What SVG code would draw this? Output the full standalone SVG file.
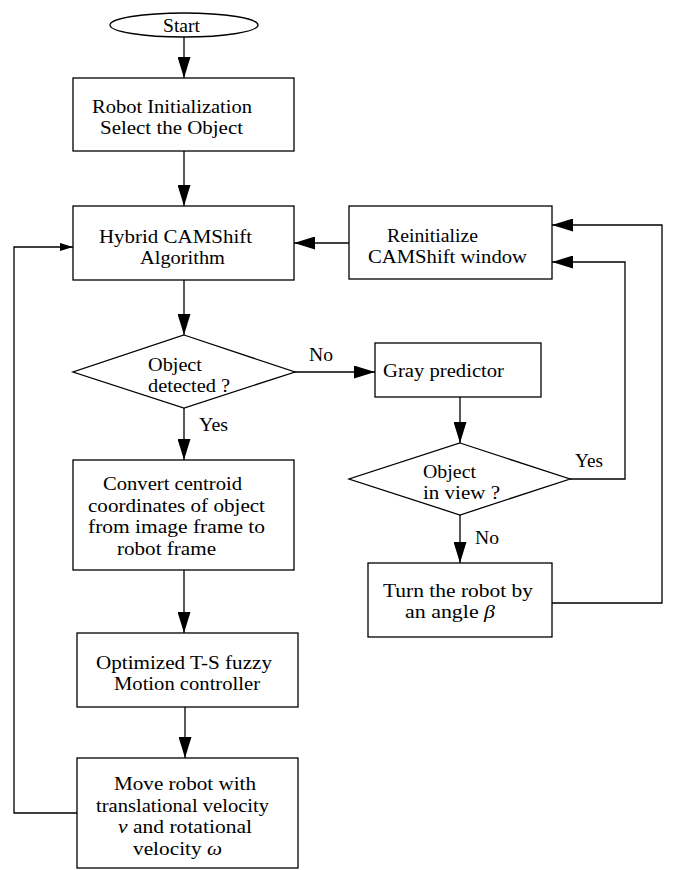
<svg xmlns="http://www.w3.org/2000/svg" width="678" height="870" viewBox="0 0 678 870">
<style>
.n{fill:#fff;stroke:#000;stroke-width:1.3}
.c{fill:none;stroke:#000;stroke-width:1.3}
text{font-family:"Liberation Serif","Times New Roman",serif;font-size:19px;fill:#000}
.i{font-style:italic}
</style>
<defs>
<marker id="a" markerUnits="userSpaceOnUse" markerWidth="21" markerHeight="13" refX="21" refY="6.5" orient="auto">
<path d="M0,0 L21,6.5 L0,13 z" fill="#000"/>
</marker>
<marker id="s" markerUnits="userSpaceOnUse" markerWidth="13" markerHeight="8" refX="13" refY="4" orient="auto">
<path d="M0,0 L13,4 L0,8 z" fill="#000"/>
</marker>
</defs>
<rect width="678" height="870" fill="#fff"/>
<g id="connectors">
<line class="c" x1="184" y1="37" x2="184" y2="78" marker-end="url(#a)"/>
<line class="c" x1="184" y1="151" x2="184" y2="206" marker-end="url(#a)"/>
<line class="c" x1="184" y1="280" x2="184" y2="335" marker-end="url(#a)"/>
<line class="c" x1="349" y1="243" x2="294" y2="243" marker-end="url(#a)"/>
<line class="c" x1="295" y1="372" x2="375" y2="372" marker-end="url(#a)"/>
<line class="c" x1="184" y1="408" x2="184" y2="460" marker-end="url(#a)"/>
<line class="c" x1="184" y1="570" x2="184" y2="633" marker-end="url(#a)"/>
<line class="c" x1="185" y1="707" x2="185" y2="758" marker-end="url(#a)"/>
<polyline class="c" points="77,813 14,813 14,247 73,247" marker-end="url(#s)"/>
<line class="c" x1="460" y1="397" x2="460" y2="443" marker-end="url(#a)"/>
<polyline class="c" points="570,479 625,479 625,262 552,262" marker-end="url(#a)"/>
<line class="c" x1="460" y1="515" x2="460" y2="563" marker-end="url(#a)"/>
<polyline class="c" points="552,603 662,603 662,225 552,225" marker-end="url(#a)"/>
<text x="309" y="361" textLength="24" lengthAdjust="spacingAndGlyphs">No</text>
<text x="199" y="431" textLength="29" lengthAdjust="spacingAndGlyphs">Yes</text>
<text x="575" y="467" textLength="28" lengthAdjust="spacingAndGlyphs">Yes</text>
<text x="475" y="544" textLength="24" lengthAdjust="spacingAndGlyphs">No</text>
</g>
<g id="start">
<ellipse class="n" cx="184" cy="25" rx="74" ry="12"/>
<text x="163" y="32" textLength="37" lengthAdjust="spacingAndGlyphs">Start</text>
</g>
<g id="init">
<rect class="n" x="73" y="78" width="221" height="73"/>
<text x="92" y="113" textLength="160" lengthAdjust="spacingAndGlyphs">Robot Initialization</text>
<text x="100" y="134" textLength="143" lengthAdjust="spacingAndGlyphs">Select the Object</text>
</g>
<g id="hybrid">
<rect class="n" x="73" y="206" width="221" height="74"/>
<text x="99" y="242.5" textLength="153" lengthAdjust="spacingAndGlyphs">Hybrid CAMShift</text>
<text x="140" y="263.5" textLength="85" lengthAdjust="spacingAndGlyphs">Algorithm</text>
</g>
<g id="reinit">
<rect class="n" x="349" y="206" width="203" height="73"/>
<text x="387" y="242" textLength="91" lengthAdjust="spacingAndGlyphs">Reinitialize</text>
<text x="368" y="263" textLength="159" lengthAdjust="spacingAndGlyphs">CAMShift window</text>
</g>
<g id="detected">
<polygon class="n" points="184,335 295,372 184,408 73,372"/>
<text x="148" y="371" textLength="54" lengthAdjust="spacingAndGlyphs">Object</text>
<text x="148" y="392" textLength="82" lengthAdjust="spacingAndGlyphs">detected ?</text>
</g>
<g id="gray">
<rect class="n" x="375" y="343" width="166" height="54"/>
<text x="383" y="377" textLength="121" lengthAdjust="spacingAndGlyphs">Gray predictor</text>
</g>
<g id="inview">
<polygon class="n" points="460,443 570,479 460,515 349,479"/>
<text x="423" y="477.5" textLength="53" lengthAdjust="spacingAndGlyphs">Object</text>
<text x="423" y="498.5" textLength="77" lengthAdjust="spacingAndGlyphs">in view ?</text>
</g>
<g id="turn">
<rect class="n" x="368" y="563" width="184" height="74"/>
<text x="383" y="596.5" textLength="150" lengthAdjust="spacingAndGlyphs">Turn the robot by</text>
<text x="405" y="617.5" textLength="90" lengthAdjust="spacingAndGlyphs">an angle <tspan class="i">β</tspan></text>
</g>
<g id="convert">
<rect class="n" x="73" y="460" width="221" height="110"/>
<text x="103" y="490" textLength="139" lengthAdjust="spacingAndGlyphs">Convert centroid</text>
<text x="88" y="511.5" textLength="177" lengthAdjust="spacingAndGlyphs">coordinates of object</text>
<text x="88" y="533" textLength="177" lengthAdjust="spacingAndGlyphs">from image frame to</text>
<text x="117" y="554.5" textLength="99" lengthAdjust="spacingAndGlyphs">robot frame</text>
</g>
<g id="fuzzy">
<rect class="n" x="77" y="633" width="221" height="74"/>
<text x="96" y="668.5" textLength="176" lengthAdjust="spacingAndGlyphs">Optimized T-S fuzzy</text>
<text x="114" y="689.5" textLength="146" lengthAdjust="spacingAndGlyphs">Motion controller</text>
</g>
<g id="move">
<rect class="n" x="77" y="758" width="221" height="110"/>
<text x="114" y="790" textLength="142" lengthAdjust="spacingAndGlyphs">Move robot with</text>
<text x="96" y="811.5" textLength="173" lengthAdjust="spacingAndGlyphs">translational velocity</text>
<text x="118" y="833" textLength="134" lengthAdjust="spacingAndGlyphs"><tspan class="i">v</tspan> and rotational</text>
<text x="133" y="854.5" textLength="89" lengthAdjust="spacingAndGlyphs">velocity <tspan class="i">ω</tspan></text>
</g>
</svg>
